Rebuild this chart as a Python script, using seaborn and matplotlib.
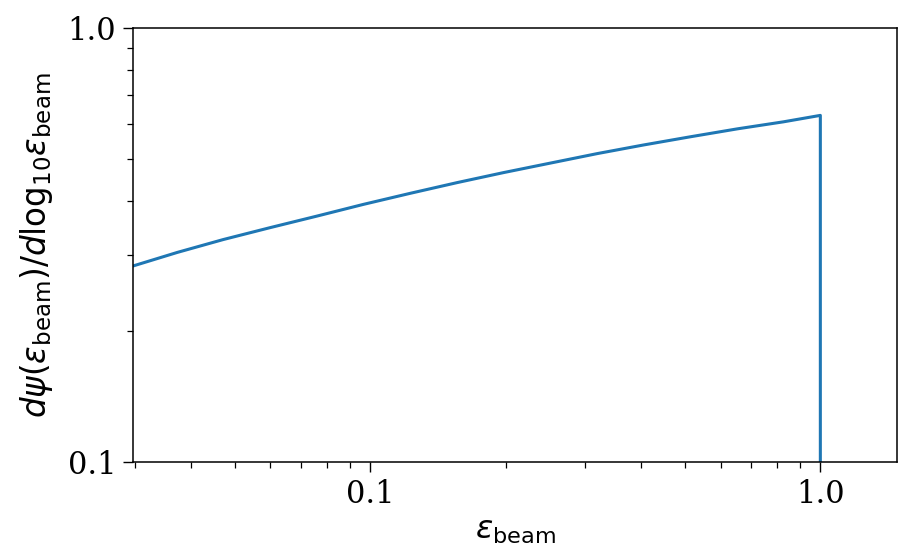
import matplotlib
matplotlib.use("Agg")
import matplotlib.pyplot as plt
import matplotlib.ticker as mticker
import pandas as pd
import seaborn as sns

# Beam-energy spectrum per log10 decade, with a sharp cutoff at eps_beam = 1
eps_beam = [0.0297, 0.03725, 0.04713, 0.05995, 0.07625, 0.09648, 0.1227,
            0.1561, 0.1975, 0.2512, 0.3195, 0.4043, 0.5143, 0.6540, 0.8276,
            1.0, 1.0]
dpsi_dlog = [0.2829, 0.3040, 0.3255, 0.3468, 0.3688, 0.3922, 0.4160,
             0.4404, 0.4642, 0.4883, 0.5136, 0.5375, 0.5615, 0.5856, 0.6078,
             0.6290, 0.1]

x_ticks = [0.1, 1.0]
x_tick_labels = ["0.1", "1.0"]
y_ticks = [0.1, 1.0]
y_tick_labels = ["0.1", "1.0"]

df = pd.DataFrame({"eps": eps_beam, "dpsi": dpsi_dlog})

sns.set_style("ticks")
plt.rcParams["font.family"] = ["DejaVu Sans"]
plt.rcParams["mathtext.fontset"] = "dejavusans"
plt.rcParams["text.color"] = "black"
plt.rcParams["axes.labelcolor"] = "black"
plt.rcParams["xtick.color"] = "black"
plt.rcParams["ytick.color"] = "black"

fig = plt.figure(figsize=(9.11, 5.49), dpi=100)
ax = fig.add_axes([0.146, 0.1585, 0.8386, 0.7905])

sns.lineplot(data=df, x="eps", y="dpsi", ax=ax, estimator=None, sort=False,
             color="#1f77b4", linewidth=2.2)

ax.set_xscale("log")
ax.set_yscale("log")
ax.set_xlim(0.0297, 1.48)
ax.set_ylim(0.1, 1.0)

ax.xaxis.set_major_locator(mticker.FixedLocator(x_ticks))
ax.xaxis.set_major_formatter(mticker.FixedFormatter(x_tick_labels))
ax.yaxis.set_major_locator(mticker.FixedLocator(y_ticks))
ax.yaxis.set_major_formatter(mticker.FixedFormatter(y_tick_labels))
ax.xaxis.set_minor_formatter(mticker.NullFormatter())
ax.yaxis.set_minor_formatter(mticker.NullFormatter())

ax.tick_params(which="major", length=7, width=1.0, direction="out",
               color="black", labelcolor="black", pad=5)
ax.tick_params(which="minor", length=4, width=0.9, direction="out",
               color="black")
for lab in ax.get_xticklabels() + ax.get_yticklabels():
    lab.set_fontfamily("DejaVu Serif")
    lab.set_fontsize(22)

for sp in ax.spines.values():
    sp.set_visible(True)
    sp.set_color("black")
    sp.set_linewidth(1.1)

ax.set_xlabel(r"$\varepsilon_{\rm beam}$", fontsize=23, labelpad=4,
              color="black")
ax.set_ylabel(r"$d\psi(\varepsilon_{\rm beam})/d\mathrm{log}_{10}\varepsilon_{\rm beam}$",
              fontsize=23.5, labelpad=9, color="black")

fig.savefig("out.png", dpi=100, facecolor="white")
